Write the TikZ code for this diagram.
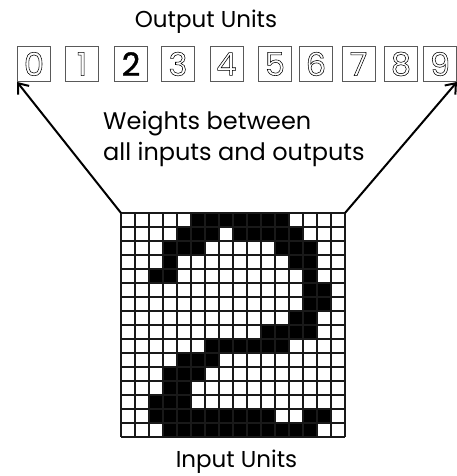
\documentclass[tikz,border=0pt]{standalone}
\usepackage{fontspec}
\setmainfont{Poppins}
\usetikzlibrary{arrows.meta,calc}
\newcommand{\outlinetxt}[1]{\special{pdf:literal direct 1 Tr 0.55 w}#1\special{pdf:literal direct 0 Tr}}
\newcommand{\semibold}[1]{\special{pdf:literal direct 2 Tr 0.4 w}#1\special{pdf:literal direct 0 Tr}}
\begin{document}
\begin{tikzpicture}[x=1pt,y=-1pt,
  outbox/.style={draw=black!65,line width=0.9pt,minimum width=33pt,minimum height=35pt,inner sep=0pt,font=\fontsize{32}{32}\selectfont},
  lbl/.style={font=\fontsize{23}{26}\selectfont,inner sep=0pt},
  wline/.style={line width=2pt,-{Straight Barb[length=9pt,width=14pt,line width=2pt]}},
  gridln/.style={black!90,line width=1.8pt}]
\useasboundingbox (0,0) rectangle (456,476);
% output units
\node[lbl,anchor=base] (title) at (206,28) {Output Units};
\foreach \i/\x in {0/34,1/82,3/178,4/226.5,5/275,6/316,7/358.5,8/401,9/440}{
  \node[outbox] (b\i) at (\x,64) {\outlinetxt{\i}};
}
\node[outbox] (b2) at (131,64) {\semibold{2}};
% weights text
\node[lbl,anchor=base west,font=\fontsize{24}{28}\selectfont] (w1) at (103,129) {Weights between};
\node[lbl,anchor=base west,font=\fontsize{24}{28}\selectfont] (w2) at (103,160) {all inputs and outputs};
% grid
\def\cs{14}
\coordinate (gTL) at (121,213);
\coordinate (gTR) at (345,213);
\foreach \r/\a/\b in {0/5/11,1/4/6,1/8/12,2/3/5,2/11/13,3/3/3,3/12/13,4/2/3,4/13/13,5/13/14,6/13/14,7/12/13,8/10/13,9/6/11,10/4/6,11/3/5,12/3/4,13/2/4,14/2/10,14/13/14,15/3/13}{
  \fill[black] ($(gTL)+(\a*\cs,\r*\cs)$) rectangle ($(gTL)+(\b*\cs+\cs,\r*\cs+\cs)$);
}
\foreach \k in {0,...,16}{
  \draw[gridln] ($(gTL)+(\k*\cs,0)$) -- ($(gTL)+(\k*\cs,16*\cs)$);
  \draw[gridln] ($(gTL)+(0,\k*\cs)$) -- ($(gTL)+(16*\cs,\k*\cs)$);
}
\node[lbl,anchor=base] (inp) at (236.5,467) {Input Units};
% arrows
\draw[wline] (gTL) -- (b0.south west);
\draw[wline] (gTR) -- (b9.south east);
\end{tikzpicture}
\end{document}
